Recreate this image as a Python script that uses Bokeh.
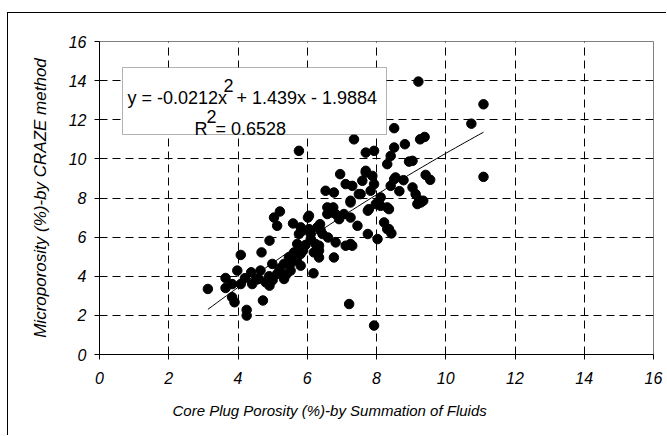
from bokeh.plotting import figure
from bokeh.models import Range1d, FixedTicker, BoxAnnotation, Label, ColumnDataSource, Title
from bokeh.embed import file_html
from bokeh.resources import INLINE

# Data
core_porosity = [3.13, 3.64, 3.64, 3.83, 3.83, 3.90, 4.08, 3.98, 4.08, 4.25, 4.25, 4.38, 4.41, 4.53, 4.65,
                 4.72, 4.68, 4.80, 4.91, 4.91, 4.99, 5.04, 5.21, 5.13, 5.13, 5.33, 5.33, 5.52, 5.47, 5.59,
                 5.62, 5.76, 5.81, 5.81, 5.88, 6.02, 6.05, 6.10, 6.18, 6.19, 6.34, 6.34, 6.37, 6.39, 6.58,
                 6.60, 6.75, 6.77, 6.82, 6.92, 7.06, 7.11, 7.21, 7.25, 7.25, 7.45, 7.75, 7.75, 7.93, 8.03,
                 7.98, 4.90, 5.00, 5.20, 5.50, 5.70, 5.95, 4.60, 4.20, 5.40,
                 6.95, 6.53, 6.77, 7.11, 7.30, 7.59, 7.69, 7.88, 7.93, 7.83, 7.54, 7.25, 8.31, 8.55, 8.41,
                 8.12, 8.07, 7.78, 8.31, 8.22, 8.36, 8.43, 7.25, 6.72, 5.86, 8.51, 11.09, 10.74, 11.09, 9.26,
                 9.39, 8.82, 8.51, 8.41, 8.94, 9.04, 9.42, 9.55, 8.51, 8.78, 9.04, 9.13, 9.23, 9.35, 9.18,
                 9.28, 8.36, 8.12, 5.76, 7.35, 7.69, 7.93, 7.69, 9.21, 6.05, 5.81, 6.29, 6.44, 6.10, 6.24,
                 6.34, 7.30, 6.82, 6.58, 7.49, 5.71, 8.66, 8.31]
microporosity = [3.35, 3.91, 3.40, 3.60, 2.93, 2.67, 3.60, 4.29, 5.09, 2.28, 1.99, 4.20, 3.60, 3.83, 4.29,
                 2.76, 5.22, 3.69, 3.52, 5.82, 4.63, 7.00, 7.31, 6.58, 4.12, 3.86, 4.63, 4.29, 4.97, 6.70,
                 5.22, 6.16, 4.54, 5.14, 5.31, 7.00, 6.41, 5.90, 4.15, 5.22, 5.56, 4.96, 6.66, 6.33, 7.52,
                 5.98, 7.52, 4.96, 5.73, 6.92, 7.18, 5.56, 2.58, 5.65, 7.77, 6.58, 6.16, 7.35, 1.48, 5.90,
                 7.69, 4.00, 3.80, 4.40, 4.60, 4.80, 5.60, 3.86, 3.90, 4.10,
                 9.22, 8.37, 8.28, 8.71, 8.62, 8.88, 9.30, 9.13, 8.71, 8.37, 8.20, 7.86, 9.73, 9.05, 8.62,
                 8.03, 7.69, 7.43, 7.52, 6.75, 6.41, 6.19, 7.00, 7.26, 6.33, 11.57, 12.79, 11.80, 9.08, 11.00,
                 11.12, 10.75, 10.58, 10.15, 9.86, 9.90, 9.18, 8.93, 8.96, 8.91, 8.54, 8.20, 7.89, 7.86, 7.69,
                 7.77, 7.43, 7.60, 10.41, 11.00, 10.32, 10.41, 9.39, 13.95, 7.09, 6.50, 6.50, 6.16, 6.16, 5.65,
                 5.31, 5.56, 7.18, 7.18, 8.20, 5.65, 8.35, 6.41]

# Polynomial trendline coefficients shown on the chart (a*x^2 + b*x + c)
trend_coeffs = [-0.0212, 1.439, -1.9884]
trend_r2 = 0.6528
tick_values = [0, 2, 4, 6, 8, 10, 12, 14, 16]
x_title = "Core Plug Porosity (%)-by Summation of Fluids"
y_title = "Microporosity (%)-by CRAZE method"

FONT = "Liberation Sans"

p = figure(width=659, height=423, output_backend="svg", toolbar_location=None,
           x_range=Range1d(0, 16), y_range=Range1d(0, 16),
           min_border_left=91, min_border_right=14, min_border_top=28, min_border_bottom=82,
           background_fill_color="white", border_fill_color="white")
p.styles = {"border-left": "1px solid black", "border-top": "1px solid black",
            "margin-left": "7px", "margin-top": "12px"}

p.outline_line_color = "#808080"
p.outline_line_width = 1

for ax in (p.xaxis[0], p.yaxis[0]):
    ax.ticker = FixedTicker(ticks=tick_values)
    ax.axis_line_color = "black"
    ax.axis_line_width = 1
    ax.major_tick_line_color = "black"
    ax.major_tick_in = 0
    ax.major_tick_out = 5
    ax.minor_tick_line_color = None
    ax.major_label_text_font = FONT
    ax.major_label_text_font_style = "italic"
    ax.major_label_text_font_size = "16px"
    ax.major_label_text_color = "black"

p.xaxis.major_label_standoff = 12
p.yaxis.major_label_standoff = 8

p.yaxis.axis_label = y_title
p.yaxis.axis_label_text_font = FONT
p.yaxis.axis_label_text_font_style = "italic"
p.yaxis.axis_label_text_font_size = "17px"
p.yaxis.axis_label_text_color = "black"
p.yaxis.axis_label_standoff = 16

xt = Title(text=x_title, align="left", offset=73, text_font=FONT, text_font_style="italic",
           text_font_size="15px", text_color="black", vertical_align="middle", standoff=28)
p.add_layout(xt, "below")

for g in (p.xgrid[0], p.ygrid[0]):
    g.ticker = FixedTicker(ticks=tick_values)
    g.grid_line_color = "black"
    g.grid_line_dash = "8 5"
    g.grid_line_width = 1

src = ColumnDataSource(dict(x=core_porosity, y=microporosity))
p.scatter("x", "y", source=src, size=9.5, fill_color="black", line_color="black")

# trendline drawn from the displayed equation over the data's x span
xs_min, xs_max = min(core_porosity), max(core_porosity)
n = 60
tx = [xs_min + (xs_max - xs_min) * i / (n - 1) for i in range(n)]
ty = [trend_coeffs[0] * v * v + trend_coeffs[1] * v + trend_coeffs[2] for v in tx]
p.line(tx, ty, line_color="black", line_width=1)

# page-pixel -> data helpers (frame: x 99..653, y 41..354)
sx = lambda px: (px - 99) / 34.625
sy = lambda py: (354 - py) / 19.5625

# Equation box
box = BoxAnnotation(left=sx(122), right=sx(386), top=sy(67), bottom=sy(134),
                    fill_color="white", fill_alpha=1.0, line_color="black", line_width=1)
p.add_layout(box)

def lab(px, py, txt):
    p.add_layout(Label(x=sx(px), y=sy(py), text=txt, text_font=FONT, text_font_size="18px",
                       text_color="black", text_align="left", text_baseline="alphabetic"))

lab(127, 97, "y = -0.0212x")
lab(223, 85, "2")
lab(236, 97, "+ 1.439x - 1.9884")
lab(194, 128, "R")
lab(206, 116, "2")
lab(215, 128, "= %.4f" % trend_r2)

open("out.html", "w").write(file_html(p, INLINE))
